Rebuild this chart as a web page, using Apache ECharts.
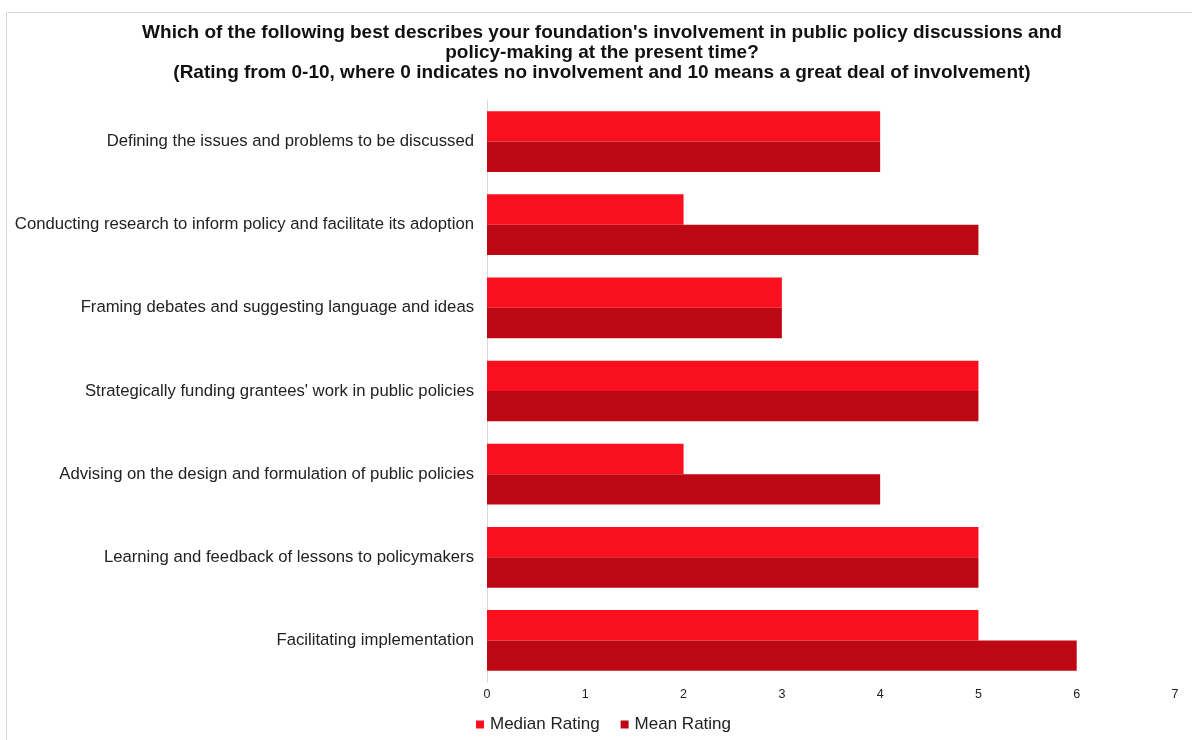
<!DOCTYPE html>
<html>
<head>
<meta charset="utf-8">
<script src="https://cdn.jsdelivr.net/npm/echarts@6/dist/echarts.min.js"></script>
<style>
  html, body { margin: 0; padding: 0; background: #fff; }
  #chart { width: 1192px; height: 740px; }
</style>
</head>
<body>
<div id="chart"></div>
<script>
// Policy involvement activities, listed top to bottom
const categories = [
  "Defining the issues and problems to be discussed",
  "Conducting research to inform policy and facilitate its adoption",
  "Framing debates and suggesting language and ideas",
  "Strategically funding grantees' work in public policies",
  "Advising on the design and formulation of public policies",
  "Learning and feedback of lessons to policymakers",
  "Facilitating implementation"
];
const medianRating = [4, 2, 3, 5, 2, 5, 5];
const meanRating = [4, 5, 3, 5, 4, 5, 6];
const xTicks = [0, 1, 2, 3, 4, 5, 6, 7];

const titleLines = [
  "Which of the following best describes your foundation's involvement in public policy discussions and",
  "policy-making at the present time?",
  "(Rating from 0-10, where 0 indicates no involvement and 10 means a great deal of involvement)"
];

const chart = echarts.init(document.getElementById('chart'), null, { renderer: 'canvas' });
const font = '"Liberation Sans", Arial, Helvetica, sans-serif';

chart.setOption({
  animation: false,
  textStyle: { fontFamily: font },
  graphic: [{
    type: 'rect',
    shape: { x: 6.5, y: 12.5, width: 1300, height: 900 },
    style: { fill: 'none', stroke: '#d6d6d6', lineWidth: 1 },
    silent: true
  }],
  title: {
    text: titleLines.join('\n'),
    left: 597,
    textAlign: 'center',
    top: 18,
    textStyle: {
      fontFamily: font,
      fontSize: 19,
      fontWeight: 'bold',
      color: '#111',
      lineHeight: 20
    }
  },
  legend: {
    top: 711,
    left: 471,
    itemWidth: 8,
    itemHeight: 8,
    itemGap: 21,
    icon: 'rect',
    textStyle: { fontFamily: font, fontSize: 17, color: '#222', padding: [0, 0, 0, 1] },
    data: ['Median Rating', 'Mean Rating']
  },
  grid: { left: 487, right: 17, top: 100, bottom: 58, containLabel: false },
  xAxis: {
    type: 'value',
    min: xTicks[0],
    max: xTicks[xTicks.length - 1],
    interval: 1,
    axisLine: { show: false },
    axisTick: { show: false },
    splitLine: { show: false },
    axisLabel: { fontFamily: font, fontSize: 12.5, color: '#222', margin: 6 }
  },
  yAxis: {
    type: 'category',
    inverse: true,
    data: categories,
    axisLine: { show: true, lineStyle: { color: '#d9d9d9', width: 1 } },
    axisTick: { show: false },
    axisLabel: { fontFamily: font, fontSize: 16.7, color: '#222', margin: 13 }
  },
  series: [
    {
      name: 'Median Rating',
      type: 'bar',
      data: medianRating,
      itemStyle: { color: '#FA0F1F' },
      barGap: '0%',
      barCategoryGap: '27%'
    },
    {
      name: 'Mean Rating',
      type: 'bar',
      data: meanRating,
      itemStyle: { color: '#BD0713' },
      barGap: '0%',
      barCategoryGap: '27%'
    }
  ]
});
</script>
</body>
</html>
